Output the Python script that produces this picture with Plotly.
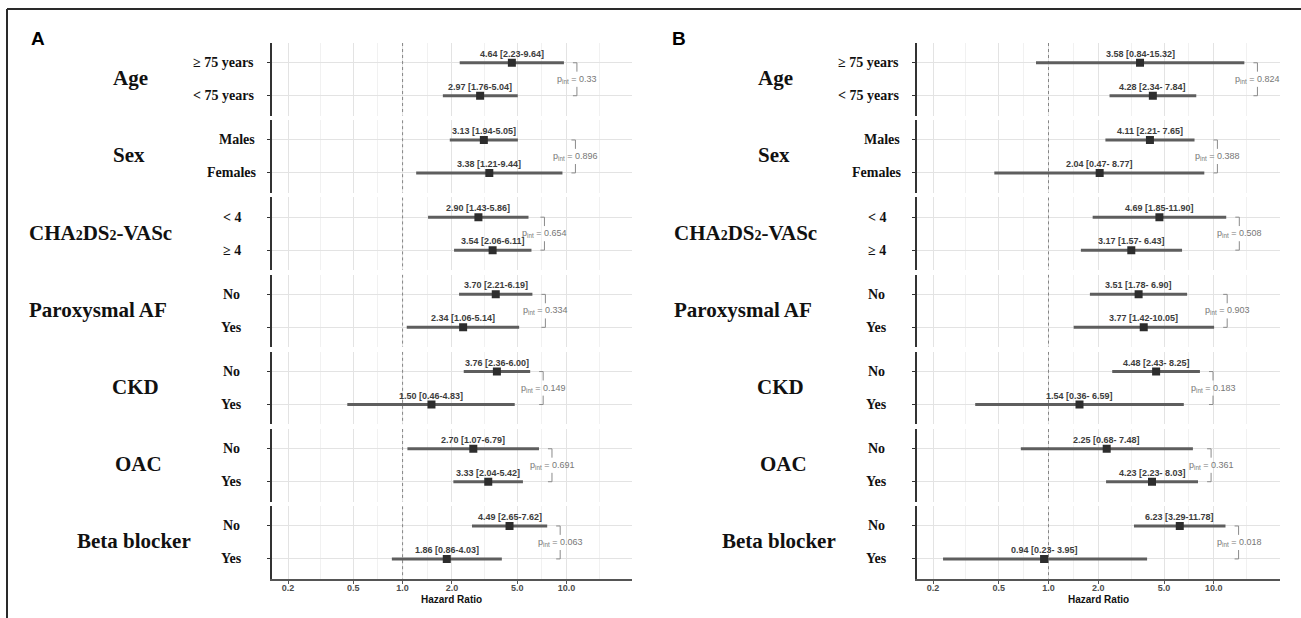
import numpy as np
import plotly.graph_objects as go

# ---------------- data ----------------
GROUPS = ["Age", "Sex",
          'CHA<span style="font-size:14px">2</span>DS<span style="font-size:14px">2</span>-VASc',
          "Paroxysmal AF", "CKD", "OAC", "Beta blocker"]
ROWS = [["≥ 75 years", "&lt; 75 years"], ["Males", "Females"], ["&lt; 4", "≥ 4"],
        ["No", "Yes"], ["No", "Yes"], ["No", "Yes"], ["No", "Yes"]]

HR_A = [[4.64, 2.97], [3.13, 3.38], [2.90, 3.54], [3.70, 2.34], [3.76, 1.50], [2.70, 3.33], [4.49, 1.86]]
LO_A = [[2.23, 1.76], [1.94, 1.21], [1.43, 2.06], [2.21, 1.06], [2.36, 0.46], [1.07, 2.04], [2.65, 0.86]]
HI_A = [[9.64, 5.04], [5.05, 9.44], [5.86, 6.11], [6.19, 5.14], [6.00, 4.83], [6.79, 5.42], [7.62, 4.03]]
P_A = ["0.33", "0.896", "0.654", "0.334", "0.149", "0.691", "0.063"]

HR_B = [[3.58, 4.28], [4.11, 2.04], [4.69, 3.17], [3.51, 3.77], [4.48, 1.54], [2.25, 4.23], [6.23, 0.94]]
LO_B = [[0.84, 2.34], [2.21, 0.47], [1.85, 1.57], [1.78, 1.42], [2.43, 0.36], [0.68, 2.23], [3.29, 0.23]]
HI_B = [[15.32, 7.84], [7.65, 8.77], [11.90, 6.43], [6.90, 10.05], [8.25, 6.59], [7.48, 8.03], [11.78, 3.95]]
P_B = ["0.824", "0.388", "0.508", "0.903", "0.183", "0.361", "0.018"]

TICK_VALS = [0.2, 0.5, 1, 2, 5, 10]
TICK_TEXT = ["0.2", "0.5", "1.0", "2.0", "5.0", "10.0"]
LIMITS = [0.2, 20]
PANEL_LETTERS = ["A", "B"]
X_TITLE = "Hazard Ratio"

# ---------------- layout / style ----------------
W, H = 1301, 618
SIDE_X = [(271.6, 632.3), (916.5, 1280.0)]        # plot area px per side
PANEL_TOP0, PANEL_PITCH, PANEL_H = 43.0, 77.2, 72.5
GROUP_DX = [-141, -143, -171, -174, -136.5, -133, -137.5]
ROW_DX = [[-48, -48], [-35, -40], [-40, -40], [-40, -40], [-40, -40], [-40, -40], [-40, -40]]
LETTER_X = [38.3, 678.6]
SERIF = "Liberation Serif"
SANS = "Liberation Sans"
GRID_MAJOR = "#E3E3E3"
GRID_MINOR = "#F1F1F1"
CI_COLOR = "#5E5E5E"
PT_COLOR = "#2D2D2D"
BRACKET_COLOR = "#8A8A8A"
BRACKET_TICK_PX = 4
BRACKET_FACTOR = 1.2

lo_log = np.log10(LIMITS[0]) - 0.1
hi_log = np.log10(LIMITS[1]) + 0.1
xr = [lo_log, hi_log]
# ggplot-style minor breaks (midpoints in log space, extended one step to the right)
lt = np.log10(TICK_VALS)
ext = np.append(lt, lt[-1] + (lt[1] - lt[0]))
minor_vals = [10 ** ((a + b) / 2) for a, b in zip(ext[:-1], ext[1:])]

fig = go.Figure()
annotations = []
shapes = []

sides = [(HR_A, LO_A, HI_A, P_A), (HR_B, LO_B, HI_B, P_B)]
for s, (HR, LO, HI, P) in enumerate(sides):
    x0px, x1px = SIDE_X[s]
    px_per_dec = (x1px - x0px) / (hi_log - lo_log)
    tick_ratio = 10 ** (BRACKET_TICK_PX / px_per_dec)
    width = max(len(f"{v:.2f}") for row in HI for v in row)
    for p in range(7):
        k = s * 7 + p + 1
        xa = "x" if k == 1 else f"x{k}"
        ya = "y" if k == 1 else f"y{k}"
        top = PANEL_TOP0 + PANEL_PITCH * p
        bot = top + PANEL_H
        last = p == 6
        fig.update_layout(**{
            ("xaxis" if k == 1 else f"xaxis{k}"): dict(
                domain=[x0px / W, x1px / W], anchor=ya, type="log", range=xr,
                tickmode="array", tickvals=TICK_VALS, ticktext=TICK_TEXT,
                showgrid=True, gridcolor=GRID_MAJOR, gridwidth=1, zeroline=False,
                minor=dict(tickmode="array", tickvals=minor_vals, showgrid=True,
                           gridcolor=GRID_MINOR, gridwidth=1, ticks=""),
                showticklabels=last, showline=last, linecolor="#555555", linewidth=2,
                ticks="outside" if last else "", ticklen=3, tickcolor="#555555",
                ticklabelstandoff=-4,
                tickfont=dict(family=SANS, size=9, color="#4D4D4D", weight="bold"),
                fixedrange=True),
            ("yaxis" if k == 1 else f"yaxis{k}"): dict(
                domain=[1 - bot / H, 1 - top / H], anchor=xa, range=[2.6, 0.4],
                tickmode="array", tickvals=[1, 2], showticklabels=False,
                showgrid=True, gridcolor=GRID_MAJOR, gridwidth=1, zeroline=False,
                showline=True, linecolor="#333333", linewidth=1.5,
                ticks="outside", ticklen=3, tickcolor="#333333", fixedrange=True),
        })
        hr, lo, hi = HR[p], LO[p], HI[p]
        # reference line at HR = 1
        fig.add_trace(go.Scatter(x=[1, 1], y=[0.4, 2.6], mode="lines", xaxis=xa, yaxis=ya,
                                 line=dict(color="#7A7A7A", width=0.9, dash="3px,3px"),
                                 hoverinfo="skip", showlegend=False))
        # CI lines
        fig.add_trace(go.Scatter(x=[lo[0], hi[0], None, lo[1], hi[1]], y=[1, 1, None, 2, 2],
                                 mode="lines", xaxis=xa, yaxis=ya,
                                 line=dict(color=CI_COLOR, width=3), hoverinfo="skip",
                                 showlegend=False))
        # points
        fig.add_trace(go.Scatter(x=hr, y=[1, 2], mode="markers", xaxis=xa, yaxis=ya,
                                 marker=dict(symbol="square", size=8, color=PT_COLOR),
                                 showlegend=False))
        # bracket
        bx = max(hi) * BRACKET_FACTOR
        fig.add_trace(go.Scatter(
            x=[bx / tick_ratio, bx, bx, None, bx, bx, bx / tick_ratio],
            y=[1, 1, 1.27, None, 1.73, 2, 2], mode="lines", xaxis=xa, yaxis=ya,
            line=dict(color=BRACKET_COLOR, width=1), hoverinfo="skip", showlegend=False))
        annotations.append(dict(xref=xa, yref=ya, x=np.log10(bx), y=1.5,
                                text=f"p<sub>int</sub> = {P[p]}", showarrow=False,
                                xanchor="center", yanchor="middle",
                                font=dict(family=SANS, size=9, color="#777777")))
        # HR labels
        for r in range(2):
            lab = f"{hr[r]:.2f} [{lo[r]:.2f}-{hi[r]:>{width}.2f}]".replace(" ", "&nbsp;")
            lab = lab.replace("&nbsp;[", " [")
            annotations.append(dict(xref=xa, yref=ya, x=np.log10(hr[r]), y=r + 1,
                                    text=f"<b>{lab}</b>", showarrow=False,
                                    xanchor="center", yanchor="bottom", yshift=2,
                                    font=dict(family=SANS, size=9, color="#3C3C3C")))
            annotations.append(dict(xref="paper", yref=ya, x=(x0px + ROW_DX[p][r]) / W,
                                    y=r + 1, text=f"<b>{ROWS[p][r]}</b>", showarrow=False,
                                    xanchor="center", yanchor="middle",
                                    font=dict(family=SERIF, size=14, color="#111111")))
        # group label
        annotations.append(dict(xref="paper", yref=ya, x=(x0px + GROUP_DX[p]) / W, y=1.5,
                                text=f"<b>{GROUPS[p]}</b>", showarrow=False,
                                xanchor="center", yanchor="middle", yshift=1,
                                font=dict(family=SERIF, size=21, color="#111111")))
    # axis title
    annotations.append(dict(xref="paper", yref="paper", x=(x0px + x1px) / 2 / W,
                            y=1 - 599 / H, text=f"<b>{X_TITLE}</b>", showarrow=False,
                            xanchor="center", yanchor="middle",
                            font=dict(family=SANS, size=10, color="#111111")))
    # panel letter
    annotations.append(dict(xref="paper", yref="paper", x=LETTER_X[s] / W, y=1 - 38.5 / H,
                            text=f"<b>{PANEL_LETTERS[s]}</b>", showarrow=False,
                            xanchor="center", yanchor="middle",
                            font=dict(family=SANS, size=19, color="#000000")))

# outer frame (top and left edges)
shapes.append(dict(type="line", xref="paper", yref="paper", x0=7 / W, x1=1,
                   y0=1 - 9 / H, y1=1 - 9 / H, line=dict(color="#2A2A2A", width=2)))
shapes.append(dict(type="line", xref="paper", yref="paper", x0=7 / W, x1=7 / W,
                   y0=0, y1=1 - 9 / H, line=dict(color="#2A2A2A", width=2)))

fig.update_layout(width=W, height=H, margin=dict(l=0, r=0, t=0, b=0),
                  paper_bgcolor="white", plot_bgcolor="white",
                  annotations=annotations, shapes=shapes, showlegend=False)
fig.write_html("out.html")
